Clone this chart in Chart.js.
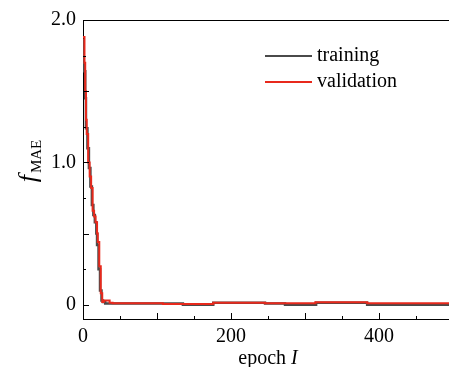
<!DOCTYPE html>
<html>
<head>
<meta charset="utf-8">
<script src="https://cdn.jsdelivr.net/npm/chart.js@4.4.1/dist/chart.umd.min.js"></script>
<style>
  html, body { margin: 0; padding: 0; background: #fff; }
  #wrap { width: 449px; height: 367px; }
</style>
</head>
<body>
<div id="wrap"><canvas id="mae-chart" width="449" height="367"></canvas></div>
<script>
// epochs where the error changes, and the error held from there on
const trainEpoch = [0, 1, 3, 4, 6, 8, 10, 12, 14, 16, 18, 19, 21, 23, 25, 27, 30, 108, 135, 176, 246, 273, 315, 384, 500];
const trainLoss  = [1.86, 1.64, 1.45, 1.24, 1.1, 0.96, 0.83, 0.7, 0.63, 0.58, 0.5, 0.42, 0.25, 0.1, 0.03, 0.02, 0.008, 0.008, 0.0, 0.014, 0.008, 0.0, 0.015, 0.0, 0.0];

const valEpoch = [0, 2, 3, 4, 5, 7, 9, 11, 13, 15, 17, 19, 20, 22, 24, 26, 28, 32, 36, 40, 108, 176, 246, 314, 384, 500];
const valLoss  = [1.88, 1.7, 1.5, 1.3, 1.2, 1.0, 0.9, 0.82, 0.66, 0.62, 0.58, 0.5, 0.44, 0.27, 0.08, 0.02, 0.03, 0.03, 0.015, 0.01, 0.005, 0.015, 0.01, 0.018, 0.01, 0.01];

const seriesNames = ['training', 'validation'];
const seriesColors = ['#4a4a4a', '#e8291c'];

// tick marks every 50 epochs / every 0.25, labelled only at these
const xTicks = [0, 50, 100, 150, 200, 250, 300, 350, 400, 450];
const xLabels = [0, 200, 400];
const yTicks = [0, 0.25, 0.5, 0.75, 1.0, 1.25, 1.5, 1.75, 2.0];
const yLabels = { 0: '0', 1: '1.0', 2: '2.0' };

const SERIF = "'Liberation Serif', 'Times New Roman', Times, serif";

const toPoints = (xs, ys) => xs.map((x, i) => ({ x: x, y: ys[i] }));

// frame top line, inward tick marks, axis titles and the legend
const decorations = {
    id: 'decorations',
    afterDraw(chart) {
        const ctx = chart.ctx;
        const area = chart.chartArea;
        const xs = chart.scales.x;
        const ys = chart.scales.y;
        ctx.save();
        ctx.strokeStyle = '#000';
        ctx.lineWidth = 1;

        ctx.beginPath();
        ctx.moveTo(area.left, area.top + 0.5);
        ctx.lineTo(area.right, area.top + 0.5);
        ctx.stroke();

        xTicks.forEach(v => {
            const px = Math.round(xs.getPixelForValue(v)) + 0.5;
            const len = v % 100 === 0 ? 6 : 3;
            ctx.beginPath();
            ctx.moveTo(px, area.bottom);
            ctx.lineTo(px, area.bottom - len);
            ctx.stroke();
        });
        yTicks.forEach(v => {
            const py = Math.round(ys.getPixelForValue(v)) + 0.5;
            const len = (v * 2) % 1 === 0 ? 6 : 3;
            ctx.beginPath();
            ctx.moveTo(area.left, py);
            ctx.lineTo(area.left + len, py);
            ctx.stroke();
        });

        // x title: "epoch I"
        ctx.fillStyle = '#000';
        ctx.textBaseline = 'alphabetic';
        ctx.font = '20px ' + SERIF;
        const w1 = ctx.measureText('epoch ').width;
        ctx.font = 'italic 20px ' + SERIF;
        const w2 = ctx.measureText('I').width;
        const x0 = 268 - (w1 + w2) / 2;
        ctx.font = '20px ' + SERIF;
        ctx.fillText('epoch ', x0, 364);
        ctx.font = 'italic 20px ' + SERIF;
        ctx.fillText('I', x0 + w1, 364);

        // y title: f with subscript MAE
        ctx.save();
        ctx.translate(36, 161);
        ctx.rotate(-Math.PI / 2);
        ctx.font = 'italic 26px ' + SERIF;
        const fw = ctx.measureText('f').width;
        ctx.font = '15px ' + SERIF;
        const sw = ctx.measureText('MAE').width;
        const sx = -(fw + sw + 2) / 2;
        ctx.font = 'italic 26px ' + SERIF;
        ctx.fillText('f', sx, 0);
        ctx.font = '15px ' + SERIF;
        ctx.fillText('MAE', sx + fw + 2, 5);
        ctx.restore();

        // legend
        ctx.font = '20px ' + SERIF;
        ctx.textBaseline = 'middle';
        seriesNames.forEach((name, i) => {
            const y = 56 + i * 26;
            ctx.strokeStyle = seriesColors[i];
            ctx.lineWidth = 2;
            ctx.beginPath();
            ctx.moveTo(265, y);
            ctx.lineTo(312, y);
            ctx.stroke();
            ctx.fillStyle = '#000';
            ctx.fillText(name, 317, y);
        });
        ctx.restore();
    }
};

const drawChart = () => {
    const ctx = document.getElementById('mae-chart').getContext('2d');
    return new Chart(ctx, {
        type: 'line',
        data: {
            datasets: [
                {
                    label: seriesNames[0],
                    data: toPoints(trainEpoch, trainLoss),
                    borderColor: seriesColors[0],
                    borderWidth: 2.5,
                    stepped: true,
                    pointRadius: 0,
                    order: 2
                },
                {
                    label: seriesNames[1],
                    data: toPoints(valEpoch, valLoss),
                    borderColor: seriesColors[1],
                    borderWidth: 2,
                    stepped: true,
                    pointRadius: 0,
                    order: 1
                }
            ]
        },
        options: {
            responsive: false,
            animation: false,
            layout: { padding: { top: 20, left: 0, right: 0, bottom: 0 } },
            plugins: {
                legend: { display: false },
                tooltip: { enabled: false }
            },
            scales: {
                x: {
                    type: 'linear',
                    min: 0,
                    max: 494.6,
                    border: { color: '#000', width: 1 },
                    grid: { display: false, drawTicks: false },
                    afterBuildTicks: (scale) => {
                        scale.ticks = xLabels.map(v => ({ value: v }));
                    },
                    afterFit: (scale) => { scale.height = 48; },
                    ticks: {
                        autoSkip: false,
                        maxRotation: 0,
                        padding: 6,
                        color: '#000',
                        font: { family: SERIF, size: 20 },
                        callback: (v) => String(v)
                    }
                },
                y: {
                    min: -0.1,
                    max: 2.0,
                    border: { color: '#000', width: 1 },
                    grid: { display: false, drawTicks: false },
                    afterBuildTicks: (scale) => {
                        scale.ticks = Object.keys(yLabels).map(k => ({ value: Number(k) }));
                    },
                    afterFit: (scale) => { scale.width = 83; },
                    ticks: {
                        autoSkip: false,
                        padding: 7,
                        color: '#000',
                        font: { family: SERIF, size: 20 },
                        callback: (v) => yLabels[v]
                    }
                }
            }
        },
        plugins: [decorations]
    });
};

// make sure the serif face is ready before the canvas text is drawn
document.fonts.load("20px 'Liberation Serif'").then(drawChart, drawChart);
</script>
</body>
</html>
